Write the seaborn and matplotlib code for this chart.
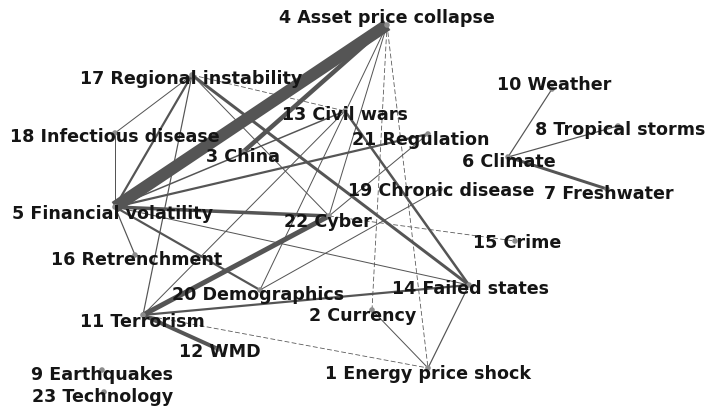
import matplotlib
matplotlib.use("Agg")
import matplotlib.pyplot as plt
import seaborn as sns
import pandas as pd

sns.set_theme(style="white")
plt.rcParams['font.family'] = ['DejaVu Sans']

# ---- nodes ----
node_id = [1, 2, 3, 4, 5, 6, 7, 8, 9, 10, 11, 12, 13, 14, 15, 16, 17, 18, 19, 20, 21, 22, 23]
node_name = ["Energy price shock", "Currency", "China", "Asset price collapse",
             "Financial volatility", "Climate", "Freshwater", "Tropical storms",
             "Earthquakes", "Weather", "Terrorism", "WMD", "Civil wars",
             "Failed states", "Crime", "Retrenchment", "Regional instability",
             "Infectious disease", "Chronic disease", "Demographics", "Regulation",
             "Cyber", "Technology"]
node_x = [428, 372, 243, 387, 115, 508, 607, 618, 102, 552, 143, 218, 345,
          469, 515, 135, 192, 115, 440, 260, 428, 329, 104]
node_y = [368, 310, 152, 25, 207, 157, 189, 126, 370, 89, 315, 349, 111,
          285, 241, 255, 75, 133, 189, 290, 134, 216, 392]
label_x = [428, 363, 243, 387, 113, 509, 609, 620, 102, 554, 142, 220, 345,
           471, 517, 137, 191, 115, 441, 258, 421, 328, 103]
label_y = [374, 316, 157, 18, 214, 162, 194, 130, 375, 85, 322, 352, 115,
           289, 243, 260, 79, 137, 191, 295, 140, 222, 397]

# ---- edges ----
edge_src = [4, 4, 4, 4, 4, 4, 17, 17, 17, 17, 17, 17, 5, 5, 5, 5, 5, 5, 5,
            11, 11, 11, 11, 11, 20, 13, 22, 21, 2, 14, 6, 6, 6]
edge_dst = [5, 3, 20, 22, 2, 1, 18, 5, 11, 14, 13, 22, 18, 22, 21, 13, 16, 20, 14,
            22, 12, 14, 1, 13, 19, 14, 15, 22, 1, 1, 10, 8, 7]
edge_weight = [12, 4.5, 1, 1, 0.8, 0.8, 1, 2.2, 1.2, 3, 0.8, 1, 1, 3.5, 2.2, 1.5, 1.2, 2.2, 1,
               5, 4, 2.2, 0.8, 1, 1, 2.5, 0.8, 1, 1, 1.2, 1.2, 1.2, 3]
edge_dashed = [False, False, False, False, True, True, False, False, False, False, True, False,
               False, False, False, False, False, False, False,
               False, False, False, True, False, False, False, True, False, False, False,
               False, False, False]

nodes = pd.DataFrame({"id": node_id, "name": node_name, "x": node_x, "y": node_y,
                      "lx": label_x, "ly": label_y}).set_index("id")

W, H = 710, 411
fig = plt.figure(figsize=(W / 100, H / 100), dpi=100)
ax = fig.add_axes([0, 0, 1, 1])

edge_color = "#555555"
for s, d, w, dash in zip(edge_src, edge_dst, edge_weight, edge_dashed):
    xs = [nodes.loc[s, "x"], nodes.loc[d, "x"]]
    ys = [nodes.loc[s, "y"], nodes.loc[d, "y"]]
    sns.lineplot(x=xs, y=ys, ax=ax, color=edge_color, linewidth=w * 0.72,
                 linestyle=(0, (6, 3)) if dash else "-", sort=False,
                 solid_capstyle="butt", estimator=None, legend=False)

sns.scatterplot(data=nodes, x="x", y="y", ax=ax, s=16, color="#8c8c8c",
                edgecolor="none", legend=False, zorder=3)

for i, row in nodes.iterrows():
    ax.text(row["lx"], row["ly"], f"{i} {row['name']}", ha="center", va="center",
            fontsize=12.6, fontweight="bold", color="#151515", zorder=4)

ax.set_xlim(0, W)
ax.set_ylim(H, 0)
ax.axis("off")
fig.savefig("out.png", dpi=100)
